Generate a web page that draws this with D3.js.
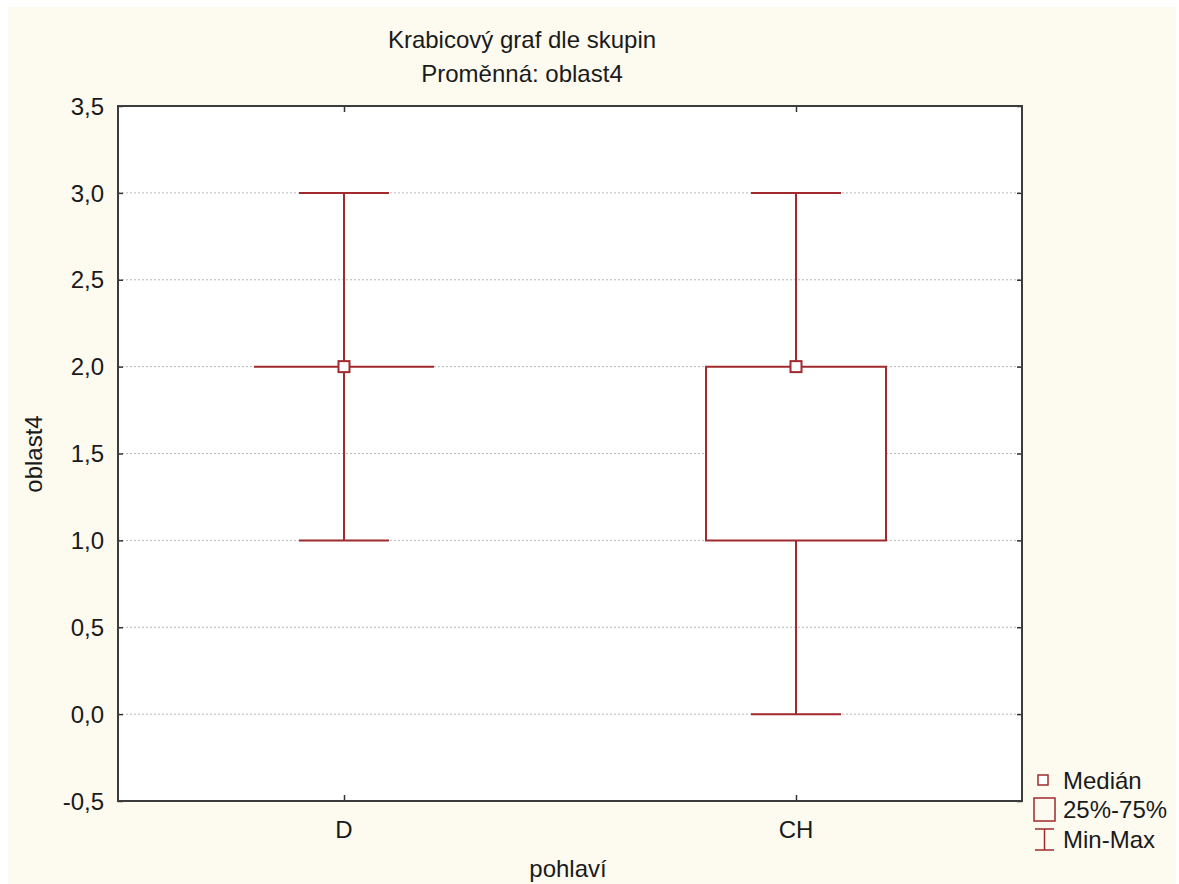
<!DOCTYPE html>
<html lang="cs">
<head>
<meta charset="utf-8">
<title>Krabicový graf dle skupin</title>
<script src="https://d3js.org/d3.v7.min.js"></script>
<style>
  body { margin: 0; background: #ffffff; }
  text { font-family: Arial, "Liberation Sans", sans-serif; fill: #1a1a1a; }
</style>
</head>
<body>
<div id="chart"></div>
<script>
// data
var groups = ["D", "CH"];
var medians = [2.0, 2.0];
var q1 = [2.0, 1.0];
var q3 = [2.0, 2.0];
var mins = [1.0, 0.0];
var maxs = [3.0, 3.0];
var yTicks = [-0.5, 0.0, 0.5, 1.0, 1.5, 2.0, 2.5, 3.0, 3.5];

var W = 1179, H = 884;
var plot = {left: 118, top: 106, right: 1022, bottom: 801};
var red = "#a02a2d";
var fs = "24px";

var svg = d3.select("#chart").append("svg")
    .attr("width", W).attr("height", H);

// cream page
svg.append("rect").attr("x", 8).attr("y", 7)
    .attr("width", 1168).attr("height", H - 7)
    .attr("fill", "#fdfaf0");

svg.append("rect")
    .attr("x", plot.left).attr("y", plot.top)
    .attr("width", plot.right - plot.left).attr("height", plot.bottom - plot.top)
    .attr("fill", "#ffffff");

var x = d3.scalePoint().domain(groups).range([plot.left, plot.right]).padding(0.5);
var y = d3.scaleLinear().domain([-0.5, 3.5]).range([plot.bottom, plot.top]);

// gridlines
svg.append("g").selectAll("line")
    .data(yTicks.filter(function(d) { return d > -0.5 && d < 3.5; }))
    .enter().append("line")
    .attr("x1", plot.left).attr("x2", plot.right)
    .attr("y1", function(d) { return y(d); }).attr("y2", function(d) { return y(d); })
    .attr("stroke", "#b8b8b8").attr("stroke-width", 1)
    .attr("stroke-dasharray", "2,2");

var fmt = function(d) { return d.toFixed(1).replace(".", ","); };

// axes (ticks pointing inward)
var yAxisL = d3.axisRight(y).tickValues(yTicks).tickSize(5).tickFormat("");
var yAxisR = d3.axisLeft(y).tickValues(yTicks).tickSize(5).tickFormat("");
var xAxisB = d3.axisTop(x).tickSize(6).tickFormat("");
var xAxisT = d3.axisBottom(x).tickSize(6).tickFormat("");

[[yAxisL, "translate(" + plot.left + ",0)"],
 [yAxisR, "translate(" + plot.right + ",0)"],
 [xAxisB, "translate(0," + plot.bottom + ")"],
 [xAxisT, "translate(0," + plot.top + ")"]].forEach(function(a) {
  var g = svg.append("g").attr("transform", a[1]).call(a[0]);
  g.select(".domain").remove();
  g.selectAll("line").attr("stroke", "#333").attr("stroke-width", 1.5);
});

// frame
svg.append("rect")
    .attr("x", plot.left).attr("y", plot.top)
    .attr("width", plot.right - plot.left).attr("height", plot.bottom - plot.top)
    .attr("fill", "none").attr("stroke", "#3c3c3c").attr("stroke-width", 2);

// tick labels
svg.append("g").selectAll("text").data(yTicks).enter().append("text")
    .attr("x", plot.left - 14).attr("y", function(d) { return y(d); })
    .attr("dy", "0.36em").attr("text-anchor", "end")
    .style("font-size", fs).text(fmt);

svg.append("g").selectAll("text").data(groups).enter().append("text")
    .attr("x", function(d) { return x(d); }).attr("y", plot.bottom + 37)
    .attr("text-anchor", "middle").style("font-size", fs).text(function(d) { return d; });

// titles
svg.append("text").attr("x", 522).attr("y", 48).attr("text-anchor", "middle")
    .style("font-size", fs).text("Krabicový graf dle skupin");
svg.append("text").attr("x", 522).attr("y", 82).attr("text-anchor", "middle")
    .style("font-size", fs).text("Proměnná: oblast4");
svg.append("text").attr("x", 568).attr("y", 877).attr("text-anchor", "middle")
    .style("font-size", fs).text("pohlaví");
svg.append("text").attr("transform", "translate(42,454) rotate(-90)")
    .attr("text-anchor", "middle").style("font-size", fs).text("oblast4");

// boxes
var boxW = 180, capW = 90, med = 11;
var bx = svg.append("g");
groups.forEach(function(g, i) {
  var cx = x(g);
  bx.append("line").attr("x1", cx).attr("x2", cx)
      .attr("y1", y(maxs[i])).attr("y2", y(mins[i]))
      .attr("stroke", red).attr("stroke-width", 2);
  [mins[i], maxs[i]].forEach(function(v) {
    bx.append("line").attr("x1", cx - capW / 2).attr("x2", cx + capW / 2)
        .attr("y1", y(v)).attr("y2", y(v))
        .attr("stroke", red).attr("stroke-width", 2);
  });
  // box as a path so a zero-height box still shows as a line
  var x0 = cx - boxW / 2, x1 = cx + boxW / 2, yt = y(q3[i]), yb = y(q1[i]);
  bx.append("path")
      .attr("d", "M" + x0 + "," + yt + "H" + x1 + "V" + yb + "H" + x0 + "Z")
      .attr("fill", "#ffffff").attr("stroke", red).attr("stroke-width", 2);
  bx.append("rect").attr("x", cx - med / 2).attr("y", y(medians[i]) - med / 2)
      .attr("width", med).attr("height", med)
      .attr("fill", "#ffffff").attr("stroke", red).attr("stroke-width", 2);
});

// legend
var lg = svg.append("g");
lg.append("rect").attr("x", 1038).attr("y", 775).attr("width", 10).attr("height", 10)
    .attr("fill", "#fff").attr("stroke", red).attr("stroke-width", 1.5);
lg.append("text").attr("x", 1063).attr("y", 789).style("font-size", fs).text("Medián");
lg.append("rect").attr("x", 1034).attr("y", 798).attr("width", 21).attr("height", 23)
    .attr("fill", "none").attr("stroke", red).attr("stroke-width", 1.5);
lg.append("text").attr("x", 1063).attr("y", 818).style("font-size", fs).text("25%-75%");
lg.append("line").attr("x1", 1044.5).attr("x2", 1044.5).attr("y1", 829).attr("y2", 850)
    .attr("stroke", red).attr("stroke-width", 1.5);
lg.append("line").attr("x1", 1035).attr("x2", 1054).attr("y1", 829).attr("y2", 829)
    .attr("stroke", red).attr("stroke-width", 1.5);
lg.append("line").attr("x1", 1035).attr("x2", 1054).attr("y1", 850).attr("y2", 850)
    .attr("stroke", red).attr("stroke-width", 1.5);
lg.append("text").attr("x", 1063).attr("y", 848).style("font-size", fs).text("Min-Max");
</script>
</body>
</html>
